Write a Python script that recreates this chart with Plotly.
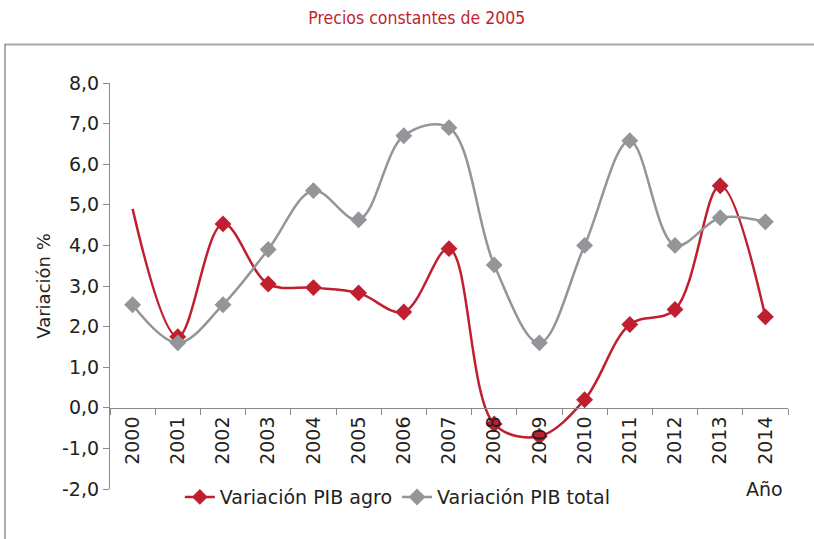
import plotly.graph_objects as go

years = ["2000", "2001", "2002", "2003", "2004", "2005", "2006", "2007",
         "2008", "2009", "2010", "2011", "2012", "2013", "2014"]
pib_agro = [4.9, 1.75, 4.53, 3.05, 2.96, 2.83, 2.36, 3.92,
            -0.4, -0.7, 0.2, 2.05, 2.42, 5.47, 2.24]
pib_total = [2.54, 1.6, 2.54, 3.9, 5.35, 4.63, 6.7, 6.9,
             3.52, 1.6, 4.0, 6.58, 4.0, 4.68, 4.58]
y_ticks = [-2, -1, 0, 1, 2, 3, 4, 5, 6, 7, 8]
y_tick_labels = ["-2,0", "-1,0", "0,0", "1,0", "2,0", "3,0", "4,0",
                 "5,0", "6,0", "7,0", "8,0"]

RED = "#c01f2f"
GREY = "#939598"
TXT = "#231f20"
FONT = "DejaVu Sans"

agro_sizes = [0] + [13] * (len(years) - 1)

fig = go.Figure()
fig.add_trace(go.Scatter(
    x=years, y=pib_agro, name="Variación PIB agro",
    mode="lines+markers",
    line=dict(color=RED, width=2.5, shape="spline", smoothing=1.0),
    marker=dict(symbol="diamond", size=agro_sizes, color=RED, opacity=1,
                line=dict(width=0)),
))
fig.add_trace(go.Scatter(
    x=years, y=pib_total, name="Variación PIB total",
    mode="lines+markers",
    line=dict(color=GREY, width=2.5, shape="spline", smoothing=1.0),
    marker=dict(symbol="diamond", size=13, color=GREY, opacity=1,
                line=dict(width=0)),
))

fig.update_layout(
    width=814, height=539,
    margin=dict(l=110, r=26, t=83, b=50),
    paper_bgcolor="white", plot_bgcolor="white",
    font=dict(family=FONT, size=18, color=TXT),
    title=dict(text="Precios constantes de 2005", x=0.512, xanchor="center",
               y=0.967, yanchor="middle",
               font=dict(family="DejaVu Sans Condensed", size=17.5, color=RED)),
    xaxis=dict(
        type="category", anchor="free", position=0.2,
        showline=True, linecolor="#8a8a8a", linewidth=1.2,
        ticks="outside", ticklen=6, tickcolor="#8a8a8a", tickson="boundaries",
        tickangle=-90, showgrid=False, zeroline=False,
        tickfont=dict(family=FONT, size=19, color=TXT),
        range=[-0.5, 14.5],
    ),
    yaxis=dict(
        range=[-2, 8], tickvals=y_ticks, ticktext=y_tick_labels,
        showline=True, linecolor="#8a8a8a", linewidth=1.2,
        ticks="outside", ticklen=6, tickcolor="#8a8a8a",
        showgrid=False, zeroline=False,
        title=dict(text="Variación %", standoff=6,
                   font=dict(family=FONT, size=18, color=TXT)),
        tickfont=dict(family=FONT, size=19, color=TXT),
    ),
    legend=dict(orientation="h", x=0.103, xanchor="left", y=-0.02, yanchor="middle",
                font=dict(family=FONT, size=19, color=TXT),
                bgcolor="rgba(0,0,0,0)", itemwidth=30, tracegroupgap=0),
    showlegend=True,
)

fig.add_annotation(text="Año", xref="paper", yref="paper", x=0.966, y=0.0,
                   xanchor="center", yanchor="middle", showarrow=False,
                   font=dict(family=FONT, size=19, color=TXT))

# frame lines
fig.add_shape(type="line", xref="paper", yref="paper",
              x0=(5 - 110) / 678, x1=1.1, y0=(489 - 44.5) / 406, y1=(489 - 44.5) / 406,
              line=dict(color="#a8a8a8", width=2))
fig.add_shape(type="line", xref="paper", yref="paper",
              x0=(5 - 110) / 678, x1=(5 - 110) / 678, y0=(489 - 44) / 406, y1=-0.2,
              line=dict(color="#777777", width=1.2))

fig.write_html("out.html", config={"displayModeBar": False},
               post_script="document.body.style.margin='0';")
